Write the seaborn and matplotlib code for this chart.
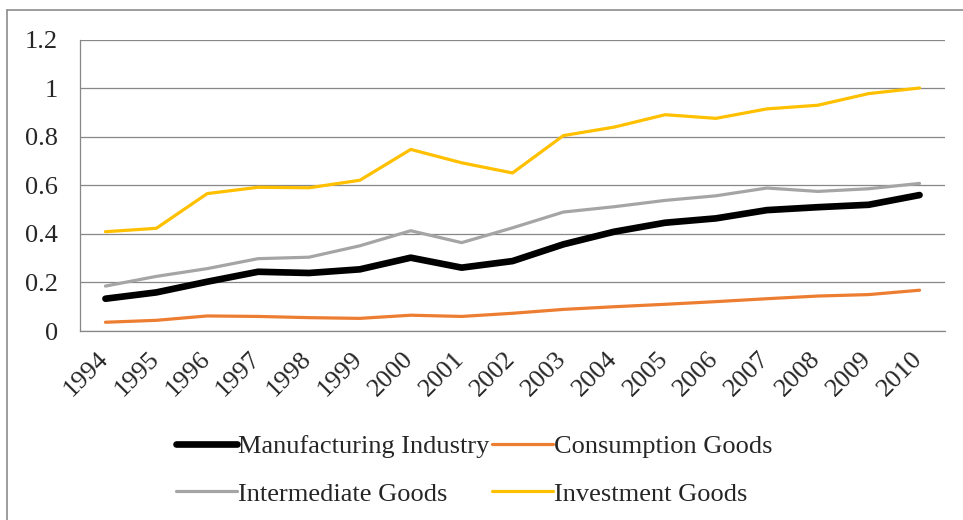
import numpy as np
import pandas as pd
import matplotlib
matplotlib.use("Agg")
import matplotlib.pyplot as plt
import matplotlib.transforms as mtransforms
from matplotlib.lines import Line2D
import seaborn as sns

years = list(range(1994, 2011))
manufacturing = [0.133, 0.159, 0.203, 0.244, 0.239, 0.254, 0.302, 0.261, 0.288,
                 0.357, 0.409, 0.446, 0.464, 0.498, 0.510, 0.520, 0.560]
consumption = [0.036, 0.044, 0.062, 0.060, 0.055, 0.052, 0.065, 0.060, 0.073,
               0.089, 0.100, 0.110, 0.121, 0.133, 0.144, 0.150, 0.168]
intermediate = [0.185, 0.225, 0.257, 0.298, 0.304, 0.351, 0.413, 0.364, 0.425,
                0.490, 0.512, 0.538, 0.557, 0.589, 0.575, 0.586, 0.608]
investment = [0.409, 0.423, 0.566, 0.592, 0.590, 0.621, 0.748, 0.693, 0.651,
              0.805, 0.840, 0.891, 0.876, 0.915, 0.930, 0.978, 1.001]

series_names = ["Manufacturing Industry", "Consumption Goods",
                "Intermediate Goods", "Investment Goods"]
series_values = [manufacturing, consumption, intermediate, investment]
colors = ["#000000", "#ED7D31", "#A5A5A5", "#FFC000"]
widths = [4.8, 2.3, 2.3, 2.3]
y_ticks = [0, 0.2, 0.4, 0.6, 0.8, 1, 1.2]
y_labels = ["0", "0.2", "0.4", "0.6", "0.8", "1", "1.2"]

df = pd.DataFrame({"Year": years})
for name, vals in zip(series_names, series_values):
    df[name] = vals
long_df = df.melt(id_vars="Year", var_name="Series", value_name="Value")

sns.set_theme(style="white")
plt.rcParams["font.family"] = ["Liberation Serif", "DejaVu Serif"]

W, H = 963, 520
fig = plt.figure(figsize=(W / 100, H / 100), dpi=100)
ax = fig.add_axes([80 / W, 1 - 331 / H, (945 - 80) / W, (331 - 39.7) / H])

handles = {}
for name, color, lw in zip(series_names, colors, widths):
    sub = long_df[long_df["Series"] == name]
    sns.lineplot(data=sub, x="Year", y="Value", color=color, linewidth=lw,
                 ax=ax, legend=False, solid_capstyle="round",
                 solid_joinstyle="round")
    handles[name] = Line2D([0], [0], color=color, linewidth=lw,
                           solid_capstyle="round")

ax.set_xlim(years[0] - 0.5, years[-1] + 0.5)
ax.set_ylim(0, 1.2)
ax.set_xlabel("")
ax.set_ylabel("")

grid_color = "#878787"
ax.set_yticks(y_ticks)
ax.set_yticklabels(y_labels, fontsize=19)
ax.yaxis.grid(True, color=grid_color, linewidth=0.9)
ax.set_axisbelow(True)
ax.tick_params(axis="y", length=0, pad=16)

ax.set_xticks(years)
ax.set_xticklabels([str(y) for y in years], fontsize=19, rotation=45,
                   ha="right", va="top")
ax.set_xticks(np.arange(years[0] - 0.5, years[-1] + 1, 1), minor=True)
ax.tick_params(axis="x", which="major", length=0, pad=12)
ax.tick_params(axis="x", which="minor", length=7, width=0.9, color=grid_color)
shift = mtransforms.ScaledTranslation(7 / 100, 0, fig.dpi_scale_trans)
for lab in ax.get_xticklabels():
    lab.set_transform(lab.get_transform() + shift)

for side in ["top", "right"]:
    ax.spines[side].set_visible(False)
for side in ["left", "bottom"]:
    ax.spines[side].set_color(grid_color)
    ax.spines[side].set_linewidth(0.9)

order = ["Manufacturing Industry", "Intermediate Goods",
         "Consumption Goods", "Investment Goods"]
fig.legend([handles[n] for n in order], order, ncol=2,
           loc="upper left", bbox_to_anchor=(176 / W, 1 - 435 / H),
           frameon=False, fontsize=19, handlelength=2.3, handletextpad=0.05,
           columnspacing=0.1, labelspacing=0.9, borderpad=0, borderaxespad=0)

# chart area border
border = "#8c8c8c"
fig.add_artist(Line2D([6.5 / W, 6.5 / W], [0, 1 - 10 / H], color=border,
                      linewidth=1.2, transform=fig.transFigure))
fig.add_artist(Line2D([6.5 / W, 1], [1 - 10 / H, 1 - 10 / H], color=border,
                      linewidth=1.2, transform=fig.transFigure))

fig.savefig("out.png", dpi=100)
